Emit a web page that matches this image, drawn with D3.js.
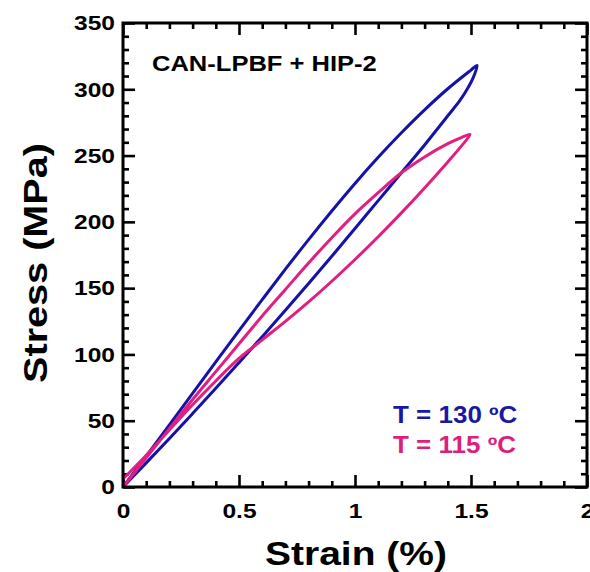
<!DOCTYPE html>
<html>
<head>
<meta charset="utf-8">
<script src="https://cdn.jsdelivr.net/npm/d3@7"></script>
<style>
  body { margin: 0; background: #fff; }
  svg { display: block; }
  text { font-family: "Liberation Sans", Arial, sans-serif; font-weight: bold; }
</style>
</head>
<body>
<div id="chart-area"></div>
<script>
// stress-strain loops, loading then unloading
var strain130 = [0, 0.1, 0.2, 0.3, 0.4, 0.5, 0.6, 0.7, 0.8, 0.9, 1.0, 1.1, 1.2, 1.3, 1.4, 1.5, 1.526,
                 1.51, 1.48, 1.45, 1.4, 1.3, 1.2, 1.1, 1.0, 0.9, 0.8, 0.7, 0.6, 0.5, 0.4, 0.3, 0.2, 0.1, 0];
var stress130 = [0, 23.3, 46.9, 70.6, 94.4, 118, 141.3, 164.3, 186.6, 208.2, 229, 248.7, 267.2, 284.5, 300.4, 314.5, 318,
                 309, 299, 291, 280, 258, 237, 216, 195, 174, 153.5, 133.3, 113.4, 93.8, 74.4, 55.4, 36.6, 18.2, 0];

var strain115 = [0, 0.1, 0.2, 0.3, 0.4, 0.5, 0.6, 0.7, 0.8, 0.9, 1.0, 1.1, 1.2, 1.3, 1.4, 1.45, 1.496,
                 1.45, 1.4, 1.3, 1.2, 1.1, 1.0, 0.9, 0.8, 0.7, 0.6, 0.5, 0.4, 0.3, 0.2, 0.1, 0];
var stress115 = [0, 22, 44, 66, 87, 108, 129, 149, 169, 188, 206, 222, 237, 249, 259, 263, 266,
                 255.4, 245.2, 225.6, 206.8, 188.8, 171.6, 155.2, 139.6, 124.9, 111, 97, 80, 62, 43, 24, 6];

var seriesNames = ['T = 130 ºC', 'T = 115 ºC'];
var seriesColors = ['#1512aa', '#e01f80'];
var labelColors = ['#1a18a2', '#dc1f7c'];

var xTicks = [0, 0.5, 1, 1.5, 2];
var xTickLabels = ['0', '0.5', '1', '1.5', '2'];
var yTicks = [0, 50, 100, 150, 200, 250, 300, 350];

var margin = { left: 123, right: 3, top: 23, bottom: 85 };
var width = 590 - margin.left - margin.right;
var height = 572 - margin.top - margin.bottom;

var svg = d3.select('#chart-area')
  .append('svg')
    .attr('width', 590)
    .attr('height', 572);

var area = svg.append('g')
  .attr('transform', 'translate(' + margin.left + ', ' + margin.top + ')');

var x = d3.scaleLinear().domain([0, 2]).range([0, width]);
var y = d3.scaleLinear().domain([0, 350]).range([height, 0]);

// stretch text horizontally (the original font is wider than Arial)
function stretch(sel, k) {
  sel.each(function() {
    var w = this.getComputedTextLength();
    d3.select(this).attr('textLength', w * k).attr('lengthAdjust', 'spacingAndGlyphs');
  });
}

var xMinor = d3.range(0, 2.001, 0.1).filter(function(d) { return Math.abs(d * 2 - Math.round(d * 2)) > 1e-6; });
var yMinor = d3.range(0, 351, 10).filter(function(d) { return d % 50 !== 0; });

function styleAxis(g) {
  g.select('.domain').remove();
  g.selectAll('line').attr('stroke', '#000').attr('stroke-width', 2.6);
}

// minor ticks on all sides
area.append('g').attr('transform', 'translate(0,' + height + ')')
  .call(d3.axisBottom(x).tickValues(xMinor).tickSize(-6).tickFormat(''))
  .call(styleAxis);
area.append('g')
  .call(d3.axisTop(x).tickValues(xMinor).tickSize(-6).tickFormat(''))
  .call(styleAxis);
area.append('g')
  .call(d3.axisLeft(y).tickValues(yMinor).tickSize(-6).tickFormat(''))
  .call(styleAxis);
area.append('g').attr('transform', 'translate(' + width + ',0)')
  .call(d3.axisRight(y).tickValues(yMinor).tickSize(-6).tickFormat(''))
  .call(styleAxis);

// major ticks
var xAxis = area.append('g').attr('transform', 'translate(0,' + height + ')')
  .call(d3.axisBottom(x).tickValues(xTicks).tickSize(-12).tickPadding(16)
    .tickFormat(function(d, i) { return xTickLabels[i]; }))
  .call(styleAxis);
area.append('g')
  .call(d3.axisTop(x).tickValues(xTicks).tickSize(-12).tickFormat(''))
  .call(styleAxis);
var yAxis = area.append('g')
  .call(d3.axisLeft(y).tickValues(yTicks).tickSize(-12).tickPadding(8))
  .call(styleAxis);
area.append('g').attr('transform', 'translate(' + width + ',0)')
  .call(d3.axisRight(y).tickValues(yTicks).tickSize(-12).tickFormat(''))
  .call(styleAxis);

[xAxis, yAxis].forEach(function(g) {
  g.attr('font-family', null).attr('font-size', null);
  g.selectAll('text')
    .attr('font-size', '21px')
    .attr('fill', '#000')
    .call(stretch, 1.17);
});

// lines
var line = d3.line()
  .x(function(d) { return x(d[0]); })
  .y(function(d) { return y(d[1]); })
  .curve(d3.curveCatmullRom.alpha(0.5));

var series = [
  d3.zip(strain130, stress130),
  d3.zip(strain115, stress115)
];

area.selectAll('path.loop')
  .data(series)
  .enter()
  .append('path')
    .attr('class', 'loop')
    .attr('d', line)
    .attr('fill', 'none')
    .attr('stroke', function(d, i) { return seriesColors[i]; })
    .attr('stroke-width', 3)
    .attr('stroke-linejoin', 'round');

// frame
area.append('rect')
  .attr('width', width)
  .attr('height', height)
  .attr('fill', 'none')
  .attr('stroke', '#000')
  .attr('stroke-width', 3);

// title inside the plot
svg.append('text')
  .attr('x', 152)
  .attr('y', 71)
  .attr('font-size', '22px')
  .text('CAN-LPBF + HIP-2')
  .call(stretch, 1.16);

// legend
svg.selectAll('text.legend')
  .data(seriesNames)
  .enter()
  .append('text')
    .attr('class', 'legend')
    .attr('x', 393)
    .attr('y', function(d, i) { return 423 + i * 30; })
    .attr('font-size', '23px')
    .attr('fill', function(d, i) { return labelColors[i]; })
    .text(function(d) { return d; })
    .call(stretch, 1.13);

// axis labels
svg.append('text')
  .attr('x', 356)
  .attr('y', 565)
  .attr('font-size', '33px')
  .attr('text-anchor', 'middle')
  .text('Strain (%)')
  .call(stretch, 1.18);

svg.append('text')
  .attr('transform', 'translate(47, 263) rotate(-90)')
  .attr('font-size', '33px')
  .attr('text-anchor', 'middle')
  .text('Stress (MPa)')
  .call(stretch, 1.2);
</script>
</body>
</html>
